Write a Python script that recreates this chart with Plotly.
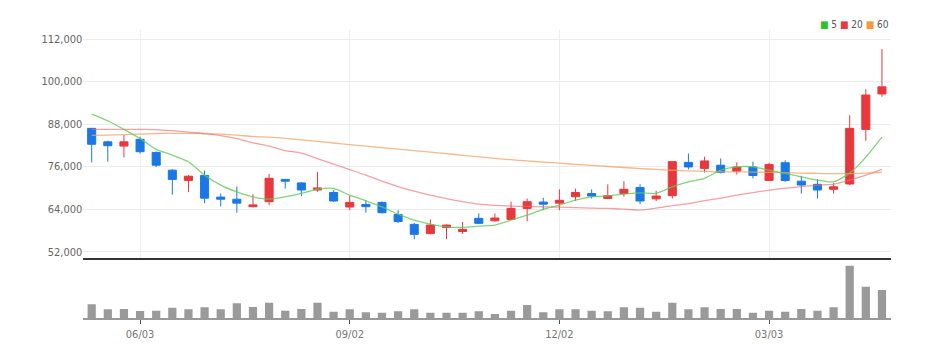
import pandas as pd
import plotly.graph_objects as go

# ---- data (weekly candles) ----
dates = list(pd.date_range("2024-05-13", periods=50, freq="W-MON").strftime("%Y-%m-%d"))

opens = [86800, 83000, 81800, 83700, 80000, 75000, 72100, 73500, 67400, 66800,
         64700, 66100, 72400, 71400, 69400, 68700, 64600, 65300, 65900, 62500,
         59700, 57100, 58800, 57700, 61400, 60700, 61100, 64200, 66000, 65700,
         67500, 68400, 67000, 68400, 70100, 66900, 67800, 77200, 75500, 76400,
         74700, 75900, 72100, 77100, 71900, 71000, 69600, 71100, 86500, 96500]
highs = [86900, 83300, 84900, 84400, 80300, 75300, 73600, 74900, 68400, 70400,
         68200, 73900, 72400, 71600, 74500, 69400, 67800, 66600, 66200, 63700,
         60100, 61100, 59700, 60400, 62800, 62800, 66100, 67000, 67200, 69600,
         69800, 69600, 71000, 71900, 71000, 69200, 77500, 79700, 78800, 78300,
         77200, 77400, 77100, 77800, 73400, 72500, 71300, 90500, 97800, 109200]
lows = [77200, 77400, 78600, 79700, 75900, 68100, 68800, 65700, 64800, 63000,
        64500, 65100, 69800, 67700, 68900, 66100, 63700, 63000, 62800, 60100,
        55500, 56900, 55500, 57000, 59800, 60500, 61000, 60600, 63700, 63700,
        66300, 67000, 66900, 67500, 65400, 66300, 67000, 75200, 74300, 74100,
        73800, 72700, 72000, 71700, 68400, 67000, 68400, 70800, 83300, 95700]
closes = [82300, 81900, 83000, 80200, 76400, 72400, 73300, 67100, 66800, 65700,
          65200, 72700, 71900, 69400, 70000, 66300, 65900, 64700, 63000, 60500,
          56900, 59500, 59500, 58300, 60000, 61500, 64200, 66100, 65400, 66500,
          68700, 67700, 67800, 69600, 66300, 67700, 77400, 75900, 77600, 74400,
          75900, 73500, 76600, 72100, 70800, 69400, 70300, 86800, 96200, 98500]

ma5 = [90820, 88930, 86500, 83960, 80860, 79250, 77360, 73600, 70780, 68890,
       67470, 66820, 67470, 68430, 69650, 69840, 67950, 66340, 64650, 62590,
       60890, 59760, 59000, 58830, 59200, 59480, 60890, 62310, 63920, 65130,
       66540, 67470, 67760, 68240, 68600, 68430, 70300, 71710, 72670, 75010,
       75940, 75940, 75010, 74080, 73120, 72190, 71710, 74160, 78680, 84330]
ma20 = [86500, 86500, 86500, 86500, 86450, 86160, 85740, 85320, 84750, 83910,
        82720, 81790, 80520, 79810, 78260, 76710, 75150, 73600, 71910, 70350,
        69080, 67950, 66970, 66120, 65410, 65050, 64850, 64760, 64650, 64570,
        64420, 64280, 64200, 64000, 63720, 64280, 64990, 65550, 66400, 67110,
        67950, 68660, 69370, 69930, 70350, 70780, 71060, 72190, 73600, 75210]
ma60 = [84810, 84890, 85040, 85180, 85320, 85370, 85370, 85320, 85180, 84890,
        84470, 84330, 83990, 83540, 83120, 82660, 82210, 81790, 81360, 80940,
        80520, 80090, 79640, 79190, 78740, 78320, 77950, 77610, 77270, 76960,
        76650, 76340, 76030, 75750, 75460, 75210, 74980, 74790, 74650, 74560,
        74530, 74450, 74360, 74280, 74170, 74080, 74020, 74020, 74170, 74360]

volumes = [280000, 180000, 186000, 146000, 152000, 212000, 180000, 220000, 180000, 300000,
           226000, 312000, 152000, 186000, 312000, 132000, 180000, 120000, 112000, 140000,
           180000, 112000, 112000, 112000, 140000, 86000, 152000, 266000, 120000, 180000,
           180000, 152000, 140000, 220000, 212000, 132000, 312000, 180000, 220000, 186000,
           186000, 112000, 152000, 132000, 186000, 152000, 220000, 1052000, 632000, 566000]

price_ticks = [52000, 64000, 76000, 88000, 100000, 112000]
date_ticks = ["2024-06-03", "2024-09-02", "2024-12-02", "2025-03-03"]
date_labels = ["06/03", "09/02", "12/02", "03/03"]

# ---- styling ----
W, H = 944, 358
FONT = "Liberation Sans Narrow, DejaVu Sans Condensed, Arial Narrow, sans-serif"
UP, DOWN = "#e8383d", "#1a78e6"


def px_x(p):
    return p / W


def px_y(p):
    return 1 - p / H


fig = go.Figure()

fig.add_trace(go.Candlestick(
    x=dates, open=opens, high=highs, low=lows, close=closes,
    increasing=dict(line=dict(color=UP, width=1), fillcolor=UP),
    decreasing=dict(line=dict(color=DOWN, width=1), fillcolor=DOWN),
    whiskerwidth=0, xaxis="x", yaxis="y", showlegend=False, hoverinfo="skip"))

for vals, col in [(ma60, "rgba(242,160,100,0.75)"),
                  (ma20, "rgba(236,110,110,0.65)"),
                  (ma5, "rgba(100,200,90,0.8)")]:
    fig.add_trace(go.Scatter(x=dates, y=vals, mode="lines",
                             line=dict(color=col, width=1.3, shape="spline", smoothing=0.6),
                             xaxis="x", yaxis="y", showlegend=False, hoverinfo="skip"))

fig.add_trace(go.Bar(x=dates, y=volumes, marker=dict(color="#9a9a9a", line=dict(width=0)),
                     xaxis="x2", yaxis="y2", showlegend=False, hoverinfo="skip"))

xrange = [-0.52, 49.56]
xdom = [px_x(83.3), px_x(891)]

fig.update_layout(
    width=W, height=H,
    margin=dict(l=0, r=0, t=0, b=0),
    paper_bgcolor="white", plot_bgcolor="white",
    boxgap=0.5, boxgroupgap=0, bargap=0.49,
    font=dict(family=FONT, color="#666", size=11),
    xaxis=dict(type="category", domain=xdom, range=xrange, anchor="y",
               rangeslider=dict(visible=False),
               tickmode="array", tickvals=date_ticks, ticktext=[""] * 4,
               showgrid=True, gridcolor="#eeeeee", gridwidth=1,
               showline=True, linecolor="#333333", linewidth=2,
               ticks="", fixedrange=True),
    xaxis2=dict(type="category", domain=xdom, range=xrange, anchor="y2",
                matches="x",
                tickmode="array", tickvals=date_ticks, ticktext=date_labels,
                showgrid=False, showline=True, linecolor="#999999", linewidth=2,
                ticks="outside", ticklen=4, tickcolor="#555555", tickwidth=1,
                tickfont=dict(family=FONT, size=11, color="#777")),
    yaxis=dict(domain=[px_y(258), px_y(30)], range=[50220, 114539],
               tickmode="array", tickvals=price_ticks, tickformat=",",
               showgrid=True, gridcolor="#ececec", gridwidth=1,
               zeroline=False, showline=False, ticks="",
               tickfont=dict(family=FONT, size=11, color="#666")),
    yaxis2=dict(domain=[px_y(318.3), px_y(258)], range=[0, 1206000],
                showgrid=False, zeroline=False, showticklabels=False, ticks=""),
)

legend_text = ('<span style="color:#2fbf2f">■</span> 5 '
               '<span style="color:#e83a3e">■</span> 20 '
               '<span style="color:#f39a3a">■</span> 60')
fig.add_annotation(text=legend_text, xref="paper", yref="paper",
                   x=px_x(891), y=px_y(24), xanchor="right", yanchor="middle",
                   showarrow=False, font=dict(family=FONT, size=10, color="#555"))

fig.write_html("out.html", config={"displayModeBar": False},
               post_script="document.body.style.margin='0';")
